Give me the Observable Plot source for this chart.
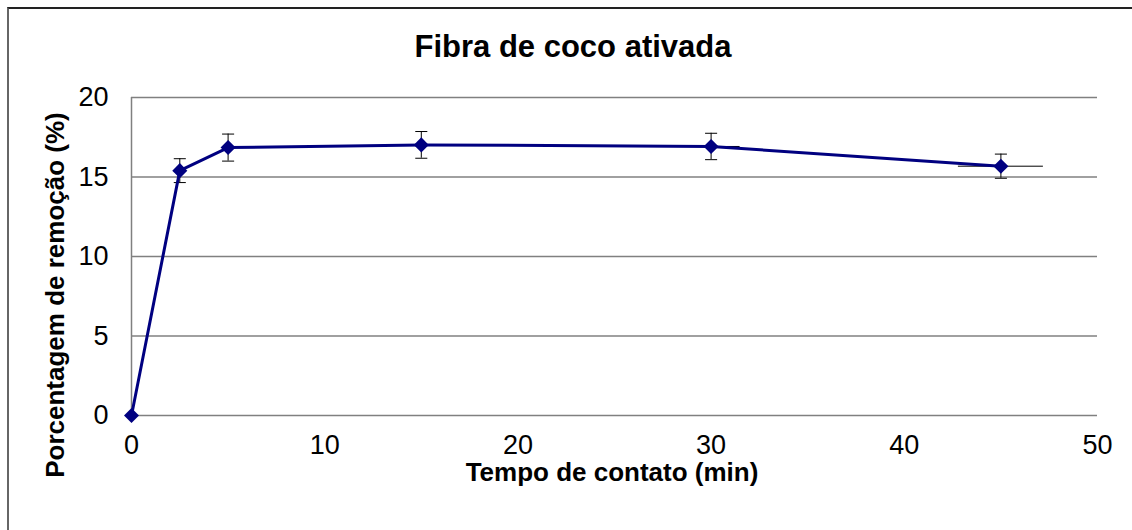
<!DOCTYPE html>
<html>
<head>
<meta charset="utf-8">
<script src="https://cdn.jsdelivr.net/npm/d3@7"></script>
<script src="https://cdn.jsdelivr.net/npm/@observablehq/plot@0.6"></script>
<style>
  html, body { margin: 0; padding: 0; background: #fff; overflow: hidden; }
  body { width: 1132px; height: 530px; position: relative; font-family: "Liberation Sans", Arial, sans-serif; }
  #frame { position: absolute; left: 7px; top: 7px; width: 2000px; height: 2000px; border-top: 2px solid #222; border-left: 2px solid #666; box-sizing: border-box; }
  #chart { position: absolute; left: 0; top: 0; }
  .t { position: absolute; line-height: 1; white-space: nowrap; font-weight: bold; color: #000; }
  #title { font-size: 31px; left: 573px; top: 31px; transform: translateX(-50%); }
  #xlabel { font-size: 26px; left: 612px; top: 459px; transform: translateX(-50%); }
  #ylabel { font-size: 26px; left: 55px; top: 295px; transform: translate(-50%, -50%) rotate(-90deg); }
</style>
</head>
<body>
<div id="frame"></div>
<div id="chart"></div>
<div class="t" id="title">Fibra de coco ativada</div>
<div class="t" id="xlabel">Tempo de contato (min)</div>
<div class="t" id="ylabel">Porcentagem de remoção (%)</div>
<script>
const times = [0, 2.5, 5, 15, 30, 45];
const removal = [0, 15.4, 16.85, 17.02, 16.92, 15.68];
const yErr = [0, 0.75, 0.85, 0.84, 0.83, 0.76];
const xErr = [0, 0, 0, 0, 1.5, 2.2];
const xTicks = [0, 10, 20, 30, 40, 50];
const yTicks = [0, 5, 10, 15, 20];

const data = times.map((t, i) => ({t, r: removal[i], ye: yErr[i], xe: xErr[i]}));
const withY = data.filter(d => d.ye > 0);
const withX = data.filter(d => d.xe > 0);

const diamond = {
  draw(ctx, size) {
    const h = Math.sqrt(size / 2);
    ctx.moveTo(0, -h); ctx.lineTo(h, 0); ctx.lineTo(0, h); ctx.lineTo(-h, 0); ctx.closePath();
  }
};
const cap = {
  draw(ctx, size) {
    const w = Math.sqrt(size) / 2;
    ctx.moveTo(-w, 0); ctx.lineTo(w, 0);
  }
};

const chart = Plot.plot({
  width: 1132,
  height: 530,
  marginLeft: 131,
  marginRight: 35,
  marginTop: 97,
  marginBottom: 115,
  style: {fontFamily: "Liberation Sans, Arial, sans-serif", fontSize: "27px", color: "#000", background: "transparent", overflow: "visible"},
  x: {domain: [0, 50], ticks: xTicks, tickSize: 0, tickPadding: 19, label: null},
  y: {domain: [0, 20], ticks: yTicks, tickSize: 0, tickPadding: 23, label: null},
  marks: [
    Plot.gridY(yTicks, {stroke: "#808080", strokeOpacity: 1, strokeWidth: 1.5}),
    Plot.ruleX([0], {stroke: "#808080", strokeWidth: 1.5}),
    Plot.ruleY(withX, {y: "r", x1: d => d.t - d.xe, x2: d => d.t + d.xe, stroke: "#000", strokeWidth: 1}),
    Plot.ruleX(withY, {x: "t", y1: d => d.r - d.ye, y2: d => d.r + d.ye, stroke: "#000", strokeWidth: 1}),
    Plot.dot(withY, {x: "t", y: d => d.r + d.ye, symbol: cap, r: 6.8, stroke: "#000", fill: "none", strokeWidth: 1}),
    Plot.dot(withY, {x: "t", y: d => d.r - d.ye, symbol: cap, r: 6.8, stroke: "#000", fill: "none", strokeWidth: 1}),
    Plot.line(data, {x: "t", y: "r", stroke: "#000080", strokeWidth: 3}),
    Plot.dot(data, {x: "t", y: "r", symbol: diamond, r: 6, fill: "#000080", stroke: "none"})
  ]
});
document.getElementById("chart").appendChild(chart);
</script>
</body>
</html>
